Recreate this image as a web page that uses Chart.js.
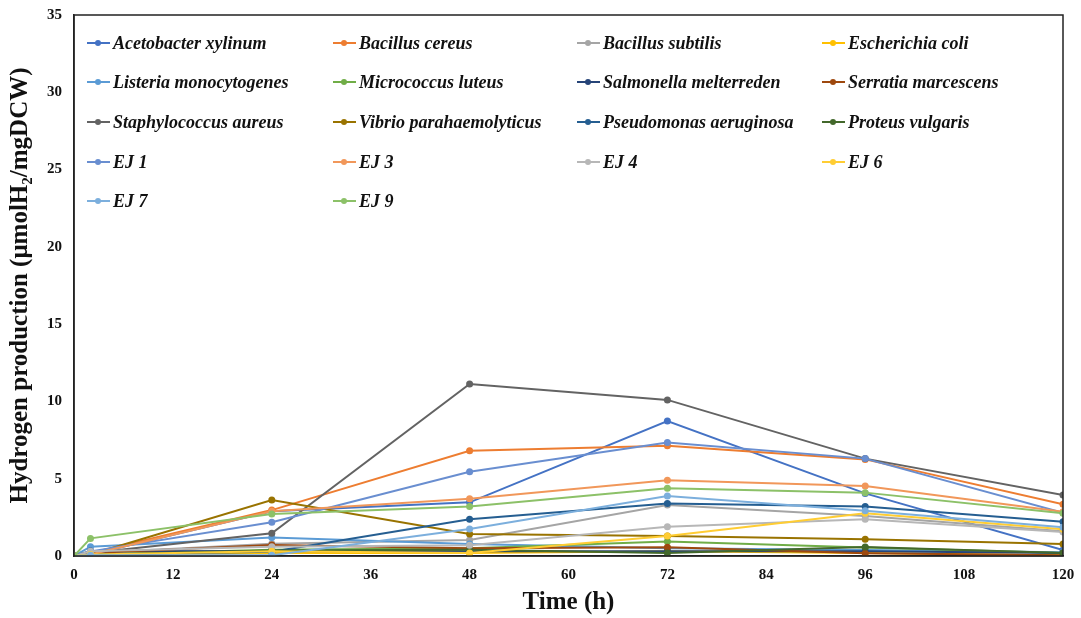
<!DOCTYPE html>
<html>
<head>
<meta charset="utf-8">
<script src="https://cdn.jsdelivr.net/npm/chart.js@4"></script>
<style>
  body { margin: 0; background: #fff; }
  #wrap { position: relative; width: 1081px; height: 618px; }
  #legend { position: absolute; left: 0; top: 0; font-family: "Liberation Serif", serif; font-weight: bold; font-style: italic; font-size: 18px; color: #111; }
  .item { position: absolute; white-space: nowrap; height: 20px; line-height: 20px; }
  .mark { position: absolute; left: 0; top: 9px; width: 23px; height: 2px; }
  .dot { position: absolute; left: 8px; top: -2px; width: 6px; height: 6px; border-radius: 50%; }
  .lbl { position: absolute; left: 26px; top: 0; }
</style>
</head>
<body>
<div id="wrap">
  <canvas id="h2Chart" width="1081" height="618"></canvas>
  <div id="legend"></div>
</div>
<script>
const timeH = [0, 2, 24, 48, 72, 96, 120];

const seriesNames = [
    'Acetobacter xylinum', 'Bacillus cereus', 'Bacillus subtilis', 'Escherichia coli',
    'Listeria monocytogenes', 'Micrococcus luteus', 'Salmonella melterreden', 'Serratia marcescens',
    'Staphylococcus aureus', 'Vibrio parahaemolyticus', 'Pseudomonas aeruginosa', 'Proteus vulgaris',
    'EJ 1', 'EJ 3', 'EJ 4', 'EJ 6',
    'EJ 7', 'EJ 9'
];

const seriesColors = [
    '#4472C4', '#ED7D31', '#A5A5A5', '#FFC000',
    '#5B9BD5', '#70AD47', '#264478', '#9E480E',
    '#636363', '#997300', '#255E91', '#43682B',
    '#698ED0', '#F1975A', '#B7B7B7', '#FFCD33',
    '#7CAFDD', '#8CC168'
];

const acetobacter = [0, 0.1, 2.9, 3.47, 8.73, 4.05, 0.39];
const bCereus     = [0, 0.2, 2.97, 6.81, 7.13, 6.25, 3.34];
const bSubtilis   = [0, 0.2, 0.8, 1.03, 3.3, 2.59, 1.6];
const eColi       = [0, 0.1, 0.2, 0.2, 0.3, 0.2, 0.05];
const listeria    = [0, 0.6, 1.19, 0.78, 0.5, 0.39, 0.25];
const micrococcus = [0, 0.1, 0.4, 0.5, 0.93, 0.55, 0.2];
const salmonella  = [0, 0.32, 0.3, 0.3, 0.3, 0.3, 0.2];
const serratia    = [0, 0.2, 0.71, 0.5, 0.56, 0.17, 0.05];
const staph       = [0, 0.2, 1.47, 11.13, 10.1, 6.3, 3.95];
const vibrio      = [0, 0.1, 3.62, 1.42, 1.3, 1.08, 0.78];
const pseudomonas = [0, 0.1, 0.28, 2.37, 3.4, 3.2, 2.22];
const proteus     = [0, 0.1, 0.35, 0.4, 0.2, 0.58, 0.2];
const ej1 = [0, 0.3, 2.18, 5.45, 7.35, 6.3, 2.8];
const ej3 = [0, 0.1, 2.9, 3.7, 4.9, 4.53, 2.87];
const ej4 = [0, 0.3, 0.6, 0.7, 1.9, 2.37, 1.55];
const ej6 = [0, 0.1, 0.3, 0.2, 1.3, 2.76, 1.73];
const ej7 = [0, 0.05, 0.05, 1.75, 3.88, 2.93, 1.86];
const ej9 = [0, 1.14, 2.72, 3.2, 4.38, 4.1, 2.76];

const seriesValues = [
    acetobacter, bCereus, bSubtilis, eColi,
    listeria, micrococcus, salmonella, serratia,
    staph, vibrio, pseudomonas, proteus,
    ej1, ej3, ej4, ej6,
    ej7, ej9
];

const yTicks = [0, 5, 10, 15, 20, 25, 30, 35];
const xTicks = [0, 12, 24, 36, 48, 60, 72, 84, 96, 108, 120];

const datasets = seriesNames.map((name, i) => ({
    label: name,
    data: timeH.map((t, j) => ({ x: t, y: seriesValues[i][j] })),
    borderColor: seriesColors[i],
    backgroundColor: seriesColors[i],
    borderWidth: 2,
    pointRadius: 3.5,
    pointBorderWidth: 0,
    order: seriesNames.length - i,
}));

// box round the plot area (Excel style frame)
const frame = {
    id: 'frame',
    afterDraw(chart) {
        const a = chart.chartArea, ctx = chart.ctx;
        ctx.save();
        ctx.strokeStyle = '#222';
        ctx.lineWidth = 1.5;
        ctx.strokeRect(a.left, a.top, a.right - a.left, a.bottom - a.top);
        ctx.restore();
    }
};

const tickFont = { family: 'Liberation Serif', weight: 'bold', size: 15 };
const titleFont = { family: 'Liberation Serif', weight: 'bold', size: 25 };

const config = {
    type: 'line',
    data: { datasets: datasets },
    options: {
        responsive: false,
        animation: false,
        layout: { padding: { top: 15, right: 18, left: 0, bottom: 0 } },
        plugins: { legend: { display: false }, tooltip: { enabled: false } },
        scales: {
            x: {
                type: 'linear',
                min: 0, max: 120,
                afterBuildTicks: s => { s.ticks = xTicks.map(v => ({ value: v })); },
                afterFit: s => { s.height = 62; s.paddingLeft = 0; s.paddingRight = 0; },
                grid: { display: false, drawTicks: false },
                border: { color: '#222', width: 1.5 },
                ticks: { color: '#111', font: tickFont, padding: 10 },
                title: { display: true, text: 'Time (h)', color: '#111', font: titleFont, padding: { top: 4, bottom: 0 } }
            },
            y: {
                min: 0, max: 35,
                afterBuildTicks: s => { s.ticks = yTicks.map(v => ({ value: v })); },
                afterFit: s => { s.width = 74; s.paddingTop = 0; s.paddingBottom = 0; },
                grid: { display: false, drawTicks: false },
                border: { color: '#222', width: 1.5 },
                ticks: { color: '#111', font: tickFont, padding: 12 },
                title: { display: true, text: 'Hydrogen production (μmolH₂/mgDCW)', color: '#111', font: titleFont, padding: { top: 6, bottom: 0 } }
            }
        }
    },
    plugins: [frame]
};

const myChart = new Chart(document.getElementById('h2Chart'), config);

// legend: 4 columns inside the plot area
const colX = [87, 333, 577, 822];
const rowY = [33, 72, 112, 152, 191];
const legend = document.getElementById('legend');
seriesNames.forEach((name, i) => {
    const item = document.createElement('div');
    item.className = 'item';
    item.style.left = colX[i % 4] + 'px';
    item.style.top = rowY[Math.floor(i / 4)] + 'px';
    item.innerHTML = '<div class="mark" style="background:' + seriesColors[i] + '"><div class="dot" style="background:' + seriesColors[i] + '"></div></div><span class="lbl"></span>';
    item.querySelector('.lbl').textContent = name;
    legend.appendChild(item);
});
</script>
</body>
</html>
